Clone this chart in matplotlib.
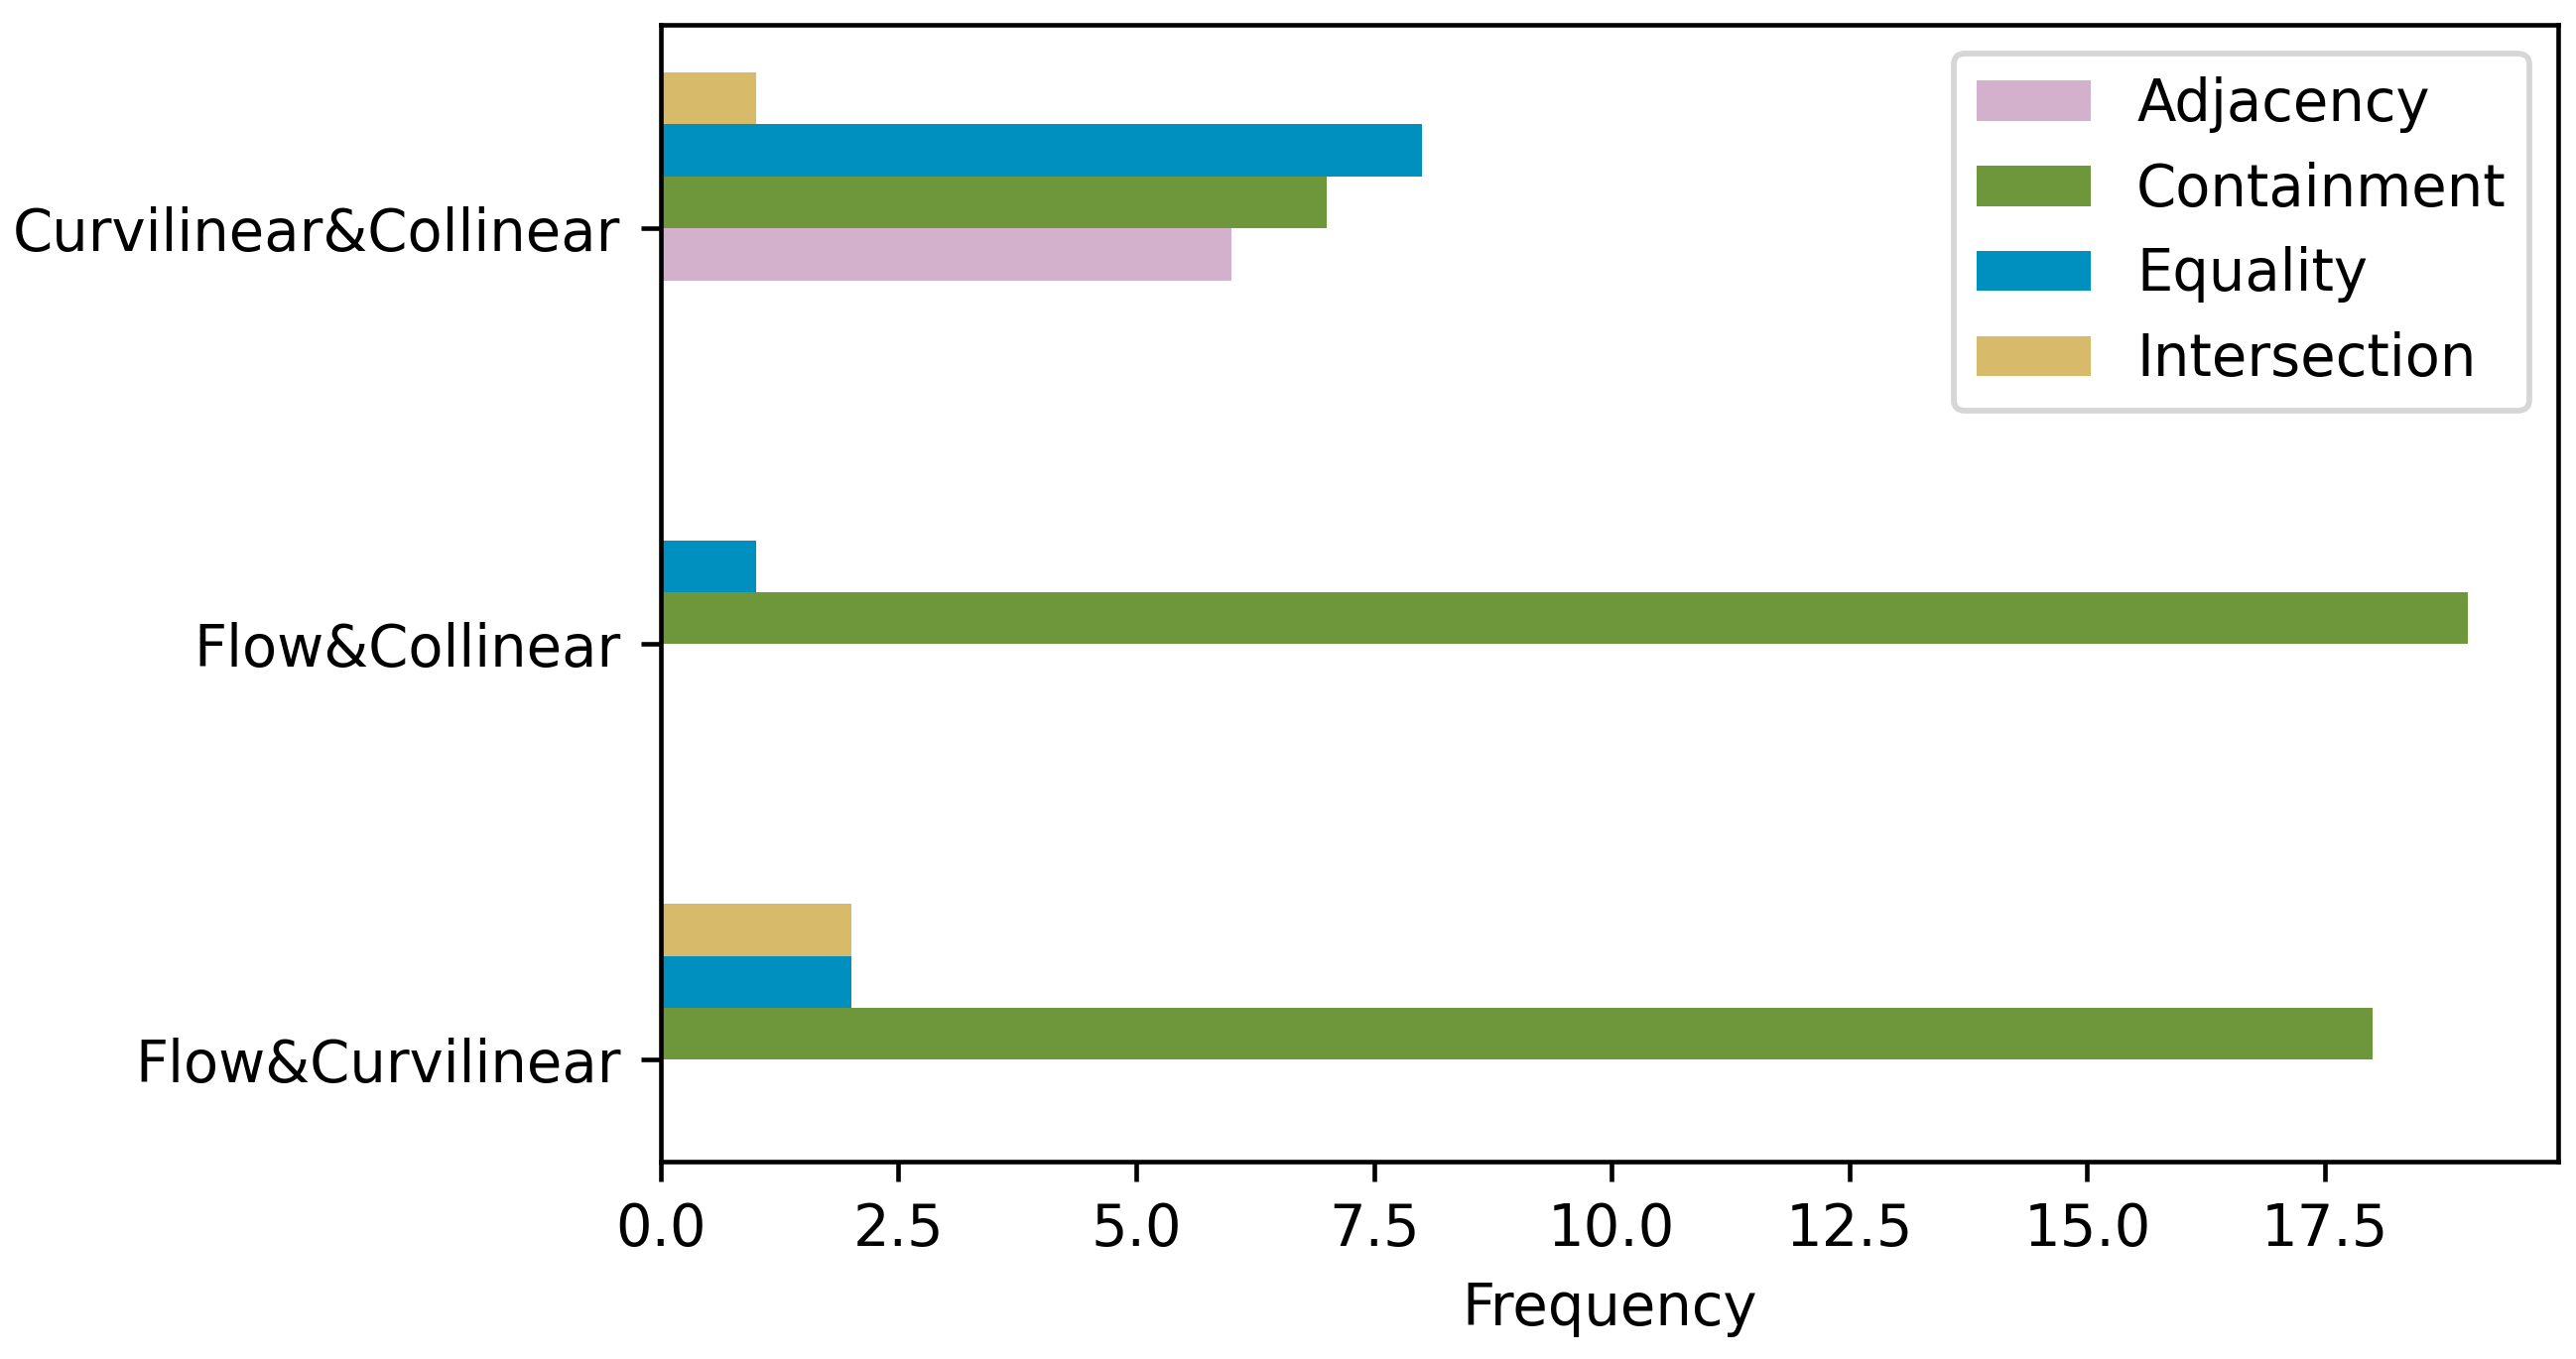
import numpy as np
import matplotlib

matplotlib.use("Agg")
import matplotlib.pyplot as plt

# categories bottom -> top
categories = ["Flow&Curvilinear", "Flow&Collinear", "Curvilinear&Collinear"]
series = ["Adjacency", "Containment", "Equality", "Intersection"]
adjacency = [0, 0, 6]
containment = [18, 19, 7]
equality = [2, 1, 8]
intersection = [2, 0, 1]
colors = ["#d3b0cc", "#6e973c", "#0090c0", "#d7bb6b"]

values = [adjacency, containment, equality, intersection]

dpi = 415
fig = plt.figure(figsize=(2596 / dpi, 1370 / dpi), dpi=dpi)
ax = fig.add_axes([0.2565, 0.1453, 0.7365, 0.8365])

ypos = np.arange(len(categories))
w = 0.125
for i, (name, vals, col) in enumerate(zip(series, values, colors)):
    ax.barh(ypos + (i - 0.5) * w, vals, height=w, color=col, label=name)

ax.set_yticks(ypos)
ax.set_yticklabels(categories, fontsize=10)
ax.tick_params(axis="x", labelsize=10)
ax.set_xlim(0, 19.95)
ax.set_ylim(-0.245, 2.49)
ax.set_xlabel("Frequency", fontsize=10)
ax.legend(loc="upper right", fontsize=10)

fig.savefig("out.png", dpi=dpi)
